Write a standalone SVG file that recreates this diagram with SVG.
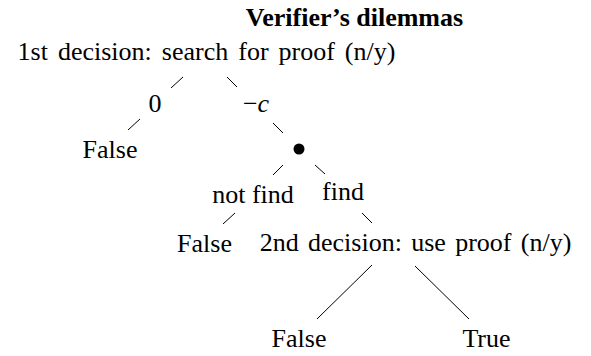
<svg xmlns="http://www.w3.org/2000/svg" width="591" height="356" viewBox="0 0 591 356">
<style>
text{font-family:"Liberation Serif","Times New Roman",serif;font-size:26px;fill:#000;text-anchor:middle}
.title{font-weight:bold}
.edge{stroke:#000;stroke-width:1;fill:none}
</style>
<rect width="591" height="356" fill="#fff"/>
<g id="title"><text class="title" x="354.5" y="25.5">Verifier’s dilemmas</text></g>
<g id="connectors">
<line class="edge" x1="171" y1="88" x2="183" y2="77"/>
<line class="edge" x1="227" y1="77" x2="237" y2="87"/>
<line class="edge" x1="128" y1="130" x2="140" y2="119"/>
<line class="edge" x1="273" y1="123" x2="283" y2="133"/>
<line class="edge" x1="283" y1="165" x2="273" y2="175"/>
<line class="edge" x1="315" y1="165" x2="325" y2="174"/>
<line class="edge" x1="235" y1="213" x2="223" y2="224"/>
<line class="edge" x1="362" y1="213" x2="372" y2="223"/>
<line class="edge" x1="372" y1="265" x2="317" y2="319"/>
<line class="edge" x1="415" y1="266" x2="469" y2="319"/>
</g>
<g id="decision1"><text x="206.5" y="60" font-size="26.5" word-spacing="3.5">1st decision: search for proof (n/y)</text></g>
<g id="label-0"><text x="155" y="112">0</text></g>
<g id="label-minus-c"><text x="256" y="112">−<tspan font-style="italic">c</tspan></text></g>
<g id="false1"><text x="110" y="158">False</text></g>
<g id="chance"><circle cx="299" cy="149" r="5.5" fill="#000"/></g>
<g id="label-notfind"><text x="253" y="203">not find</text></g>
<g id="label-find"><text x="343" y="200">find</text></g>
<g id="false2"><text x="204.5" y="252">False</text></g>
<g id="decision2"><text x="415.5" y="251" word-spacing="2.8">2nd decision: use proof (n/y)</text></g>
<g id="false3"><text x="299" y="347">False</text></g>
<g id="true"><text x="486.5" y="347">True</text></g>
</svg>
